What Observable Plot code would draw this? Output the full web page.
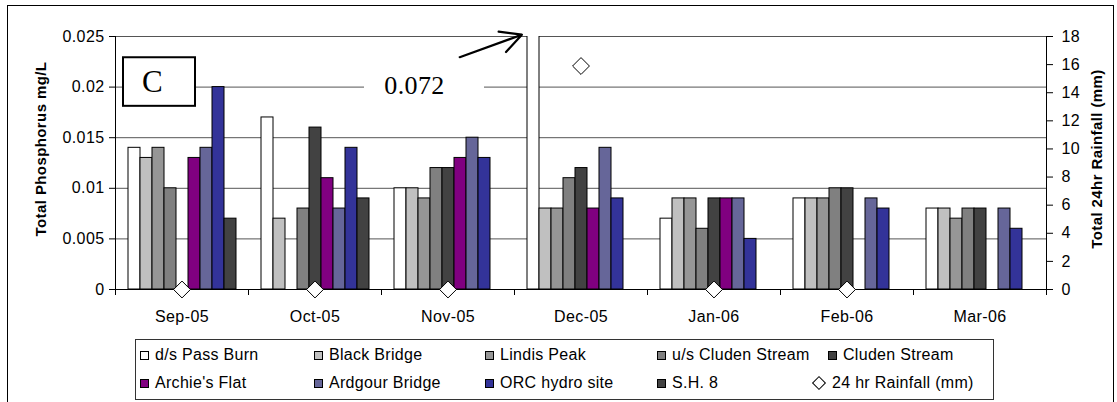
<!DOCTYPE html>
<html><head><meta charset="utf-8">
<script src="https://cdn.jsdelivr.net/npm/d3@7"></script>
<script src="https://cdn.jsdelivr.net/npm/@observablehq/plot@0.6"></script>
<style>
html,body{margin:0;padding:0;background:#fff;}
#wrap{position:relative;width:1117px;height:402px;overflow:hidden;font-family:"Liberation Sans",Arial,sans-serif;}
#border{position:absolute;left:7px;top:5px;width:1105px;height:420px;border:1px solid #000;}
#chart{position:absolute;left:0;top:0;}
#legend{position:absolute;left:135px;top:339px;width:857px;height:59px;border:1px solid #333;background:#fff;}
.item{position:absolute;display:flex;align-items:center;font-size:16px;white-space:nowrap;height:20px;letter-spacing:0.3px;}
.sw{width:7px;height:7px;border:1px solid #000;margin-right:6px;}
.dia{width:8px;height:8px;border:1px solid #000;transform:rotate(45deg);margin-right:8px;margin-left:2px;background:#fff;}
#chart svg text{letter-spacing:0.4px;}
</style></head><body>
<div id="wrap"><div id="border"></div><div id="chart"></div><div id="legend"></div></div>
<script>
// ---- data ----
const months = ["Sep-05","Oct-05","Nov-05","Dec-05","Jan-06","Feb-06","Mar-06"];
const seriesNames = ["d/s Pass Burn","Black Bridge","Lindis Peak","u/s Cluden Stream","Cluden Stream","Archie's Flat","Ardgour Bridge","ORC hydro site","S.H. 8"];
const seriesColors = ["#ffffff","#c0c0c0","#969696","#808080","#424242","#800080","#666699","#333399","#424242"];
const dsPassBurn     = [0.014, 0.017, 0.010, 0.072, 0.007, 0.009, 0.008];
const blackBridge    = [0.013, 0.007, 0.010, 0.008, 0.009, 0.009, 0.008];
const lindisPeak     = [0.014, null,  0.009, 0.008, 0.009, 0.009, 0.007];
const usCludenStream = [0.010, 0.008, 0.012, 0.011, 0.006, 0.010, 0.008];
const cludenStream   = [null,  0.016, 0.012, 0.012, 0.009, 0.010, 0.008];
const archiesFlat    = [0.013, 0.011, 0.013, 0.008, 0.009, null,  null];
const ardgourBridge  = [0.014, 0.008, 0.015, 0.014, 0.009, 0.009, 0.008];
const orcHydroSite   = [0.020, 0.014, 0.013, 0.009, 0.005, 0.008, 0.006];
const sh8            = [0.007, 0.009, null,  null,  null,  null,  null];
const rainfall       = [0, 0, 0, 15.9, 0, 0, null];
const phTicks   = [0, 0.005, 0.01, 0.015, 0.02, 0.025];
const phTickLabels = ["0","0.005","0.01","0.015","0.02","0.025"];
const rainTicks = [0, 2, 4, 6, 8, 10, 12, 14, 16, 18];
const leftTitle = "Total Phosphorus mg/L";
const rightTitle = "Total 24hr Rainfall (mm)";
const panelLabel = "C";
const offScaleLabel = "0.072";
const legendRainLabel = "24 hr Rainfall (mm)";

// ---- build tables ----
const seriesValues = [dsPassBurn, blackBridge, lindisPeak, usCludenStream, cludenStream, archiesFlat, ardgourBridge, orcHydroSite, sh8];
const rows = seriesNames.flatMap((s, i) => months.map((m, j) => ({month: m, series: s, value: seriesValues[i][j]})))
  .filter(d => d.value != null);
const phMax = d3.max(phTicks), rainMax = d3.max(rainTicks);
const rainToY = r => r * phMax / rainMax;
const rainRows = months.map((m, j) => ({month: m, rain: rainfall[j]})).filter(d => d.rain != null);

// annotations (anchored in data space)
const boxC = [{month: "Sep-05", series: "Lindis Peak", lo: 0.0181, hi: 0.0229, text: panelLabel}];
const box072 = [{month: "Nov-05", series: "Black Bridge", lo: 0.0187, hi: 0.0216, text: offScaleLabel}];
const arrow072 = [{month: "Nov-05", from: "d/s Pass Burn", to: "S.H. 8", y1: 0.02083, y2: 0.02427}];

const plot = Plot.plot({
  width: 1117, height: 335,
  marginTop: 36, marginBottom: 46, marginLeft: 114, marginRight: 70,
  style: {fontFamily: "'Liberation Sans', Arial, sans-serif", fontSize: "16px", color: "#000", background: "transparent", overflow: "visible"},
  fx: {domain: months, padding: 0, label: null},
  x: {domain: seriesNames, paddingInner: 0, paddingOuter: 0.75, axis: null},
  y: {domain: [0, phMax], label: null},
  color: {domain: seriesNames, range: seriesColors},
  marks: [
    Plot.gridY(phTicks.slice(1), {stroke: "#555", strokeOpacity: 1}),
    Plot.barY(boxC, {fx: "month", x: "series", y1: "lo", y2: "hi", insetLeft: -29, insetRight: -31, fill: "white", stroke: "black", strokeWidth: 2}),
    Plot.barY(box072, {fx: "month", x: "series", y1: "lo", y2: "hi", insetLeft: -42, insetRight: -66, fill: "white"}),
    Plot.barY(rows, {fx: "month", x: "series", y: "value", fill: "series", stroke: "black", strokeWidth: 1, clip: true}),
    Plot.ruleY([0], {stroke: "#000"}),
    Plot.frame({anchor: "left", facetAnchor: "left", stroke: "#000"}),
    Plot.frame({anchor: "right", facetAnchor: "right", stroke: "#000"}),
    Plot.frame({anchor: "left", insetTop: 253, insetBottom: -5, stroke: "#000"}),
    Plot.frame({anchor: "right", facetAnchor: "right", insetTop: 253, insetBottom: -5, stroke: "#000"}),
    Plot.dot(rainRows, {fx: "month", y: d => rainToY(d.rain), symbol: "diamond2", r: 7.6, fill: "white", stroke: "black", strokeWidth: 1}),
    Plot.text(boxC, {fx: "month", x: "series", y: d => (d.lo + d.hi) / 2, text: "text", dx: -6, fontFamily: "'Liberation Serif', 'Times New Roman', serif", fontSize: 31}),
    Plot.text(box072, {fx: "month", x: "series", y: d => (d.lo + d.hi) / 2, text: "text", dx: 2, fontFamily: "'Liberation Serif', 'Times New Roman', serif", fontSize: 26}),
    Plot.arrow(arrow072, {fx: "month", x1: "from", y1: "y1", x2: "to", y2: "y2", insetStart: 63, insetEnd: -27, headLength: 16, headAngle: 55, strokeWidth: 2.2, stroke: "black"}),
    Plot.axisY({anchor: "left", ticks: phTicks, tickFormat: d => phTickLabels[phTicks.indexOf(d)], tickSize: 6, tickPadding: 5, label: null}),
    Plot.axisY({anchor: "right", ticks: rainTicks.map(rainToY), tickFormat: d => String(Math.round(d * rainMax / phMax)), tickSize: 6, tickPadding: 9, label: null}),
    Plot.axisFx({anchor: "bottom", tickSize: 0, tickPadding: 21, label: null}),
    Plot.text([leftTitle], {frameAnchor: "left", facetAnchor: "left", textAnchor: "middle", rotate: -90, dx: -74, dy: -14, fontWeight: "bold", fontSize: 15}),
    Plot.text([rightTitle], {frameAnchor: "right", facetAnchor: "right", textAnchor: "middle", rotate: -90, dx: 51, dy: -4, fontWeight: "bold", fontSize: 15})
  ]
});
document.getElementById("chart").appendChild(plot);

// ---- legend ----
const legend = document.getElementById("legend");
const colX = [4, 178, 349, 521, 692];
const rowY = [5, 33];
seriesNames.forEach((s, i) => {
  const el = document.createElement("div");
  el.className = "item";
  el.style.left = colX[i % 5] + "px";
  el.style.top = rowY[Math.floor(i / 5)] + "px";
  const sw = document.createElement("span");
  sw.className = "sw";
  sw.style.background = seriesColors[i];
  el.appendChild(sw);
  el.appendChild(document.createTextNode(s));
  legend.appendChild(el);
});
{
  const el = document.createElement("div");
  el.className = "item";
  el.style.left = (colX[4] - 16) + "px";
  el.style.top = rowY[1] + "px";
  const sw = document.createElement("span");
  sw.className = "dia";
  el.appendChild(sw);
  el.appendChild(document.createTextNode(legendRainLabel));
  legend.appendChild(el);
}
</script>
</body></html>
